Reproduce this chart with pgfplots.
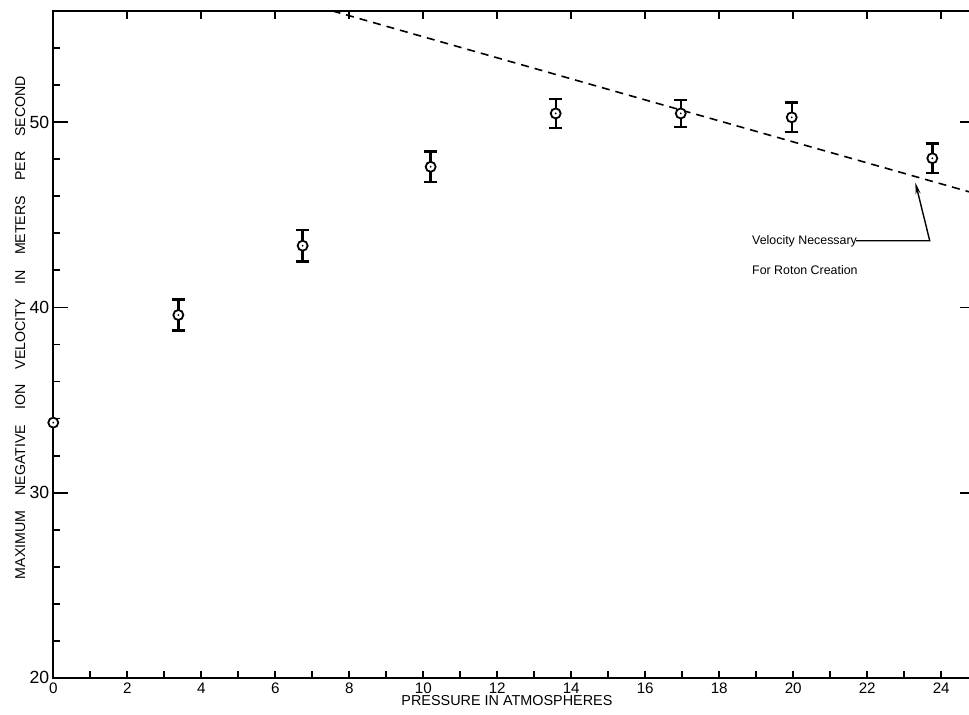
\documentclass[border=0pt]{standalone}
\usepackage{pgfplots}
\pgfplotsset{compat=1.18}
\usepackage{fontspec}
\setmainfont{Liberation Sans}
\usetikzlibrary{arrows.meta}

% open circle with a dot in the middle
\pgfdeclareplotmark{odot}{%
  \pgfpathcircle{\pgfpointorigin}{\pgfplotmarksize}%
  \pgfsetfillcolor{white}\pgfusepathqfillstroke
  \pgfpathcircle{\pgfpointorigin}{0.5pt}%
  \pgfsetfillcolor{black}\pgfusepathqfill}

\begin{document}
\begin{tikzpicture}
\begin{axis}[
    scale only axis,
    width=462.5pt, height=333.5pt,
    xmin=0, xmax=25, ymin=20, ymax=56,
    clip=false,
    axis line style={line width=1pt},
    tick align=inside,
    tick style={line width=0.9pt, black},
    major tick length=3.5pt,
    xtick={0,...,24},
    xticklabels={0,,2,,4,,6,,8,,10,,12,,14,,16,,18,,20,,22,,24},
    xtick pos=bottom,
    ytick={22,24,26,28,32,34,36,38,42,44,46,48,52,54},
    yticklabels={},
    ytick pos=left,
    extra y ticks={20,30,40,50},
    extra y tick labels={20,30,40,50},
    extra y tick style={major tick length=7.5pt},
    /pgf/number format/assume math mode=true,
    x tick label style={font=\fontsize{7.6}{7.6}\selectfont, yshift=1pt},
    y tick label style={font=\fontsize{8.8}{8.8}\selectfont, xshift=1.5pt},
    xlabel={PRESSURE IN ATMOSPHERES},
    xlabel style={at={(axis description cs:0.4905,-0.034)}, anchor=center, font=\fontsize{7.2}{8}\selectfont},
    ylabel={MAXIMUM\hspace{7.5pt}NEGATIVE\hspace{7.5pt}ION\hspace{7.5pt}VELOCITY\hspace{7.5pt}IN\hspace{7.5pt}METERS\hspace{7.5pt}PER\hspace{7.5pt}SECOND},
    ylabel style={at={(axis description cs:-0.0357,0.5255)}, anchor=center, font=\fontsize{7.1}{8}\selectfont},
]
% measured points with error bars
\addplot+[black, only marks, mark=odot, mark size=2.5pt, mark options={line width=0.9pt, solid},
    error bars/.cd, y dir=both, y explicit,
    error bar style={line width=1.2pt, black},
    error mark options={rotate=90, mark size=3.3pt, line width=1.2pt, black}]
  coordinates {
    (3.38, 39.59) +- (0, 0.84)
    (6.74, 43.33) +- (0, 0.86)
    (10.20, 47.59) +- (0, 0.83)
    (13.58, 50.47) +- (0, 0.78)
    (16.96, 50.47) +- (0, 0.74)
    (19.96, 50.26) +- (0, 0.79)
    (23.76, 48.05) +- (0, 0.79)
  };
% zero pressure point
\addplot[black, only marks, mark=odot, mark size=2.5pt, mark options={line width=0.9pt}]
  coordinates {(0, 33.78)};
% velocity necessary for roton creation
\addplot[black, line width=0.8pt, dash pattern=on 4pt off 3pt]
  coordinates {(7.55, 56) (15.86, 51.28) (17.68, 50.25) (25, 46.1)};

% top and right ticks
\pgfplotsinvokeforeach{2,4,...,24}{
  \draw[line width=0.9pt] (axis cs:#1,56) -- (axis cs:#1,55.55);
}
\pgfplotsinvokeforeach{30,40,50}{
  \draw[line width=0.9pt] (axis cs:25,#1) -- (axis cs:24.5,#1);
}

\node[anchor=west, font=\fontsize{6.2}{7}\selectfont, inner sep=0pt] at (axis cs:18.88,43.55) {Velocity Necessary};
\node[anchor=west, font=\fontsize{6.2}{7}\selectfont, inner sep=0pt] at (axis cs:18.88,42.02) {For Roton Creation};
\draw[line width=0.7pt, -{Stealth[length=6pt,width=2.5pt]}]
  (axis cs:21.7,43.6) -- (axis cs:23.69,43.6) -- (axis cs:23.3,46.75);
\end{axis}
\pgfresetboundingbox
\useasboundingbox ([xshift=-26.65pt,yshift=-18.5pt]current axis.south west)
  rectangle ([xshift=-4.6pt,yshift=5.5pt]current axis.north east);
\end{tikzpicture}
\end{document}
